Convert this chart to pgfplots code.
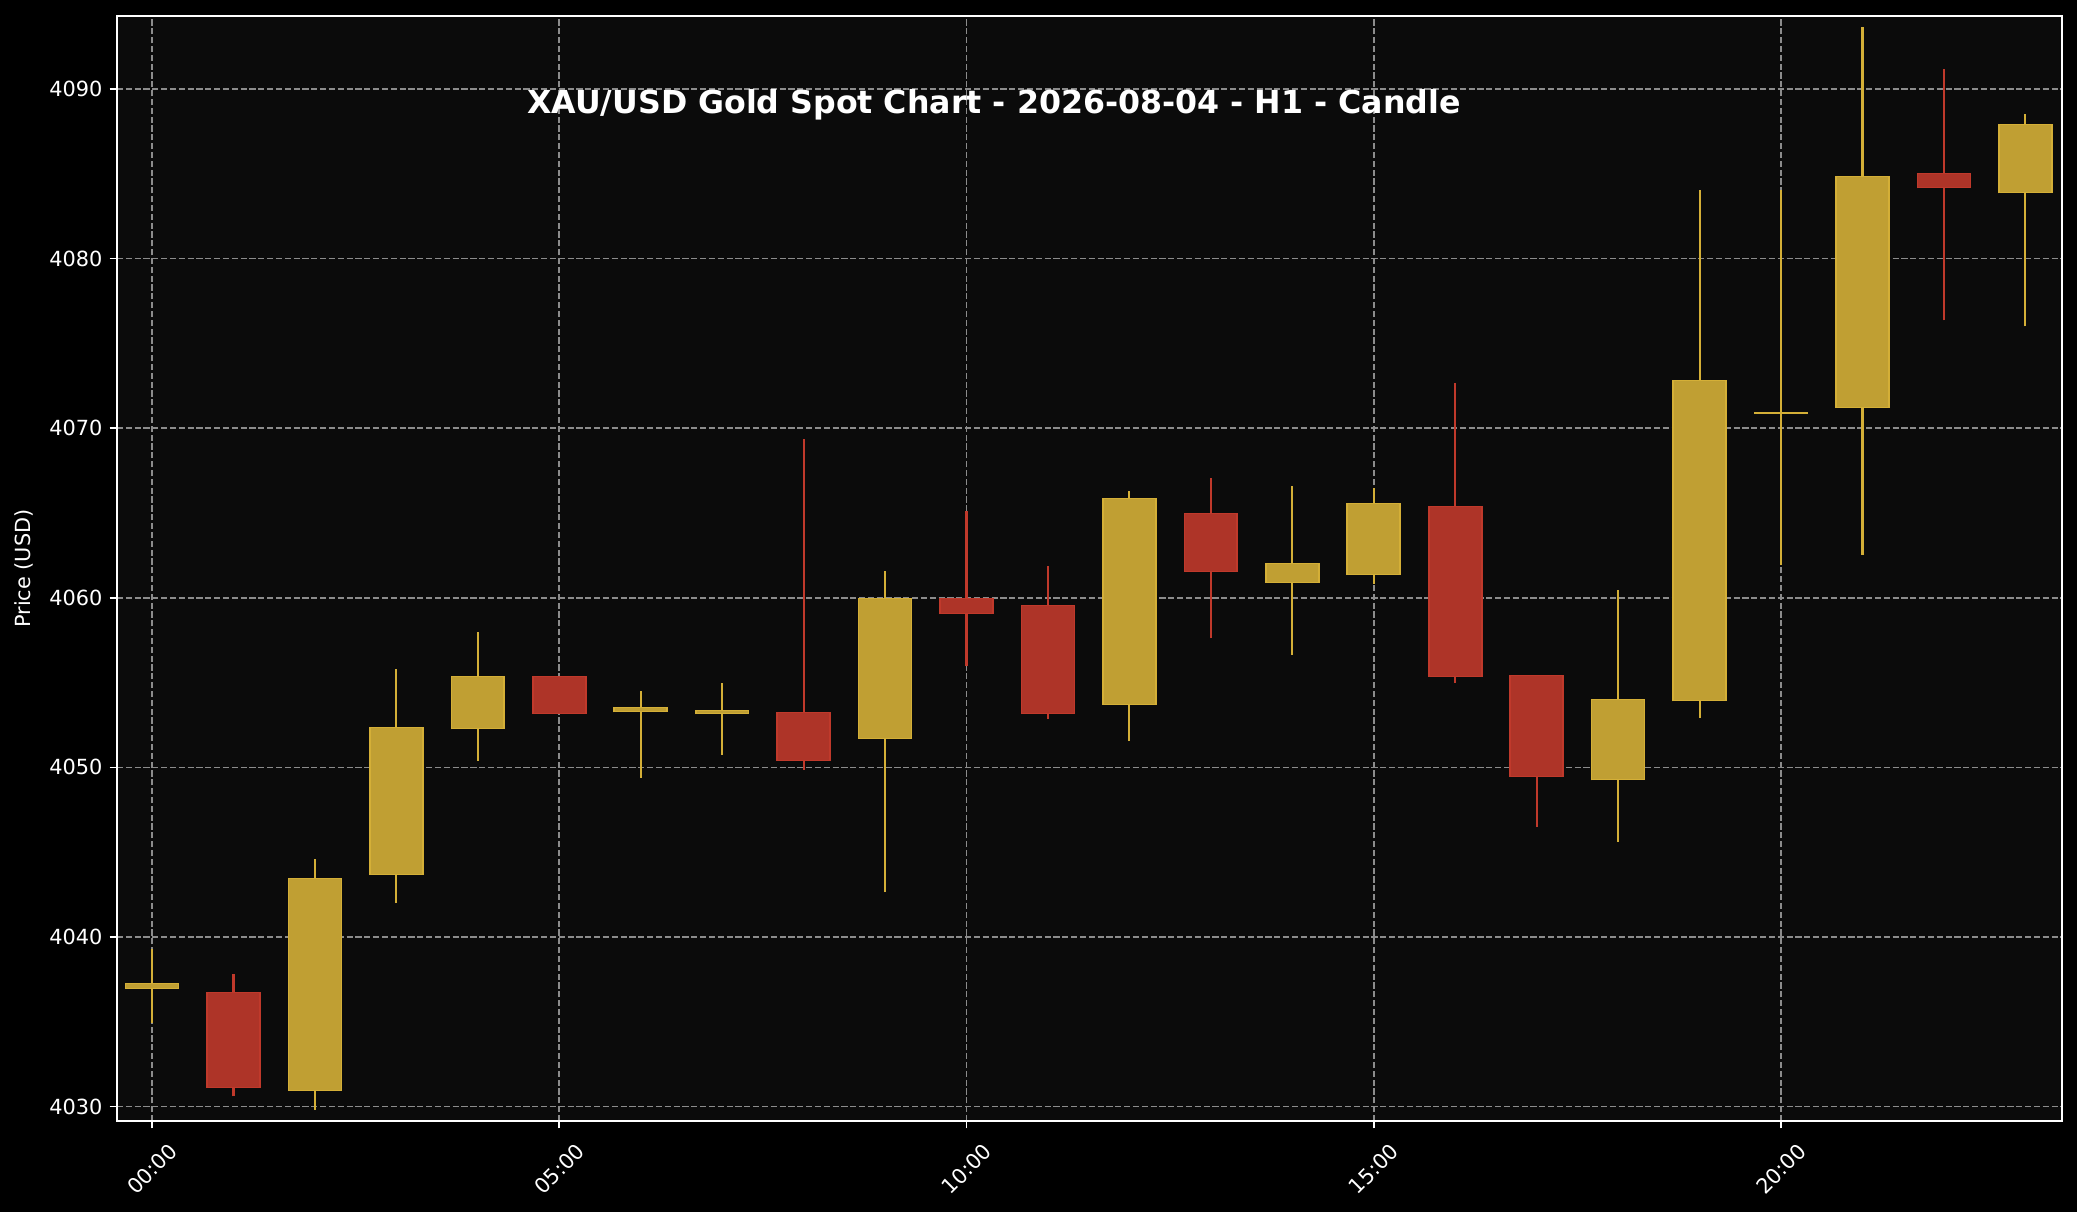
\documentclass[border=0pt]{standalone}
\usepackage{fontspec}
\setmainfont{DejaVu Sans}
\usepackage{pgfplots}
\usepackage{pgfplotstable}
\pgfplotsset{compat=1.18}

\definecolor{goldE}{RGB}{212,175,55}
\definecolor{goldF}{RGB}{192,159,51}
\definecolor{redE}{RGB}{192,57,43}
\definecolor{redF}{RGB}{174,52,40}
\definecolor{axbg}{RGB}{11,11,11}
\definecolor{gridc}{RGB}{140,140,140}

% hour, low, body bottom, body top, high
\pgfplotstableread{
x low bot top high
0 4034.95 4037.0 4037.2 4039.3
2 4029.8 4031.0 4043.4 4044.6
3 4042.0 4043.7 4052.3 4055.8
4 4050.4 4052.3 4055.35 4058.0
6 4049.4 4053.3 4053.5 4054.5
7 4050.75 4053.2 4053.35 4055.0
9 4042.65 4051.75 4059.95 4061.55
12 4051.55 4053.75 4065.85 4066.3
14 4056.65 4060.95 4062.0 4066.6
15 4060.8 4061.4 4065.55 4066.5
18 4045.6 4049.3 4053.95 4060.45
19 4052.9 4053.95 4072.8 4084.05
20 4061.95 4070.9 4070.9 4084.05
21 4062.55 4071.25 4084.8 4093.65
23 4076.0 4083.9 4087.85 4088.5
}\upcandles
\pgfplotstableread{
x low bot top high
1 4030.6 4031.15 4036.7 4037.8
5 4053.2 4053.2 4055.3 4055.3
8 4049.85 4050.45 4053.2 4069.35
10 4055.95 4059.1 4059.95 4065.1
11 4052.85 4053.2 4059.5 4061.9
13 4057.6 4061.6 4064.95 4067.05
16 4055.0 4055.4 4065.35 4072.65
17 4046.5 4049.5 4055.4 4055.4
22 4076.35 4084.2 4085.0 4091.2
}\downcandles

% vertical segments drawn as error bars, no marks
\pgfplotsset{
  vbar/.style={draw=none, mark=none, forget plot,
    error bars/.cd, y dir=plus, y explicit, error mark=none,
    error bar style={#1}},
}

\begin{document}
\begin{tikzpicture}
\fill[black] (-56.16pt,-43.68pt) rectangle (940.8pt,538.08pt);
\begin{axis}[
  at={(0,0)}, anchor=south west,
  scale only axis,
  width=933.6pt, height=530.4pt,
  xmin=-0.43, xmax=23.45,
  ymin=4029.15, ymax=4094.3,
  axis background/.style={fill=axbg},
  axis line style={white, line width=0.8pt},
  tick style={white, line width=0.8pt},
  major tick length=3.5pt,
  tick align=outside,
  xtick pos=bottom, ytick pos=left,
  xtick={0,5,10,15,20},
  xticklabels={00:00,05:00,10:00,15:00,20:00},
  ytick={4030,4040,4050,4060,4070,4080,4090},
  /pgf/number format/assume math mode=true,
  /pgf/number format/1000 sep={},
  ticklabel style={font=\fontsize{10}{12}\selectfont, text=white},
  x tick label style={yshift=-19.5pt, rotate=45, anchor=center},
  grid=major,
  grid style={draw=gridc, dash pattern=on 2.96pt off 1.28pt, line width=0.8pt},
  ylabel={Price (USD)},
  y label style={at={(axis description cs:-0.0478,0.5)}, anchor=center,
    text=white, font=\fontsize{10}{12}\selectfont},
]
% wicks
\addplot[vbar={draw=goldE, line width=1pt}]
  table[x=x, y=low, y error expr=\thisrow{high}-\thisrow{low}] {\upcandles};
\addplot[vbar={draw=redE, line width=1pt}]
  table[x=x, y=low, y error expr=\thisrow{high}-\thisrow{low}] {\downcandles};
% body edges
\addplot[vbar={draw=goldE, line width=26.2pt}]
  table[x=x, y expr=\thisrow{bot}-0.06, y error expr=\thisrow{top}-\thisrow{bot}+0.12] {\upcandles};
\addplot[vbar={draw=redE, line width=26.2pt}]
  table[x=x, y expr=\thisrow{bot}-0.06, y error expr=\thisrow{top}-\thisrow{bot}+0.12] {\downcandles};
% body fills
\addplot[vbar={draw=goldF, line width=24.6pt}]
  table[x=x, y=bot, y error expr=\thisrow{top}-\thisrow{bot}] {\upcandles};
\addplot[vbar={draw=redF, line width=24.6pt}]
  table[x=x, y=bot, y error expr=\thisrow{top}-\thisrow{bot}] {\downcandles};
\node[text=white, font=\fontsize{15.2}{18}\selectfont\bfseries]
  at (rel axis cs:0.4509,0.9194) {XAU/USD Gold Spot Chart - 2026-08-04 - H1 - Candle};
\end{axis}
\pgfresetboundingbox
\path[use as bounding box] (-56.16pt,-43.68pt) rectangle (940.8pt,538.08pt);
\end{tikzpicture}
\end{document}
